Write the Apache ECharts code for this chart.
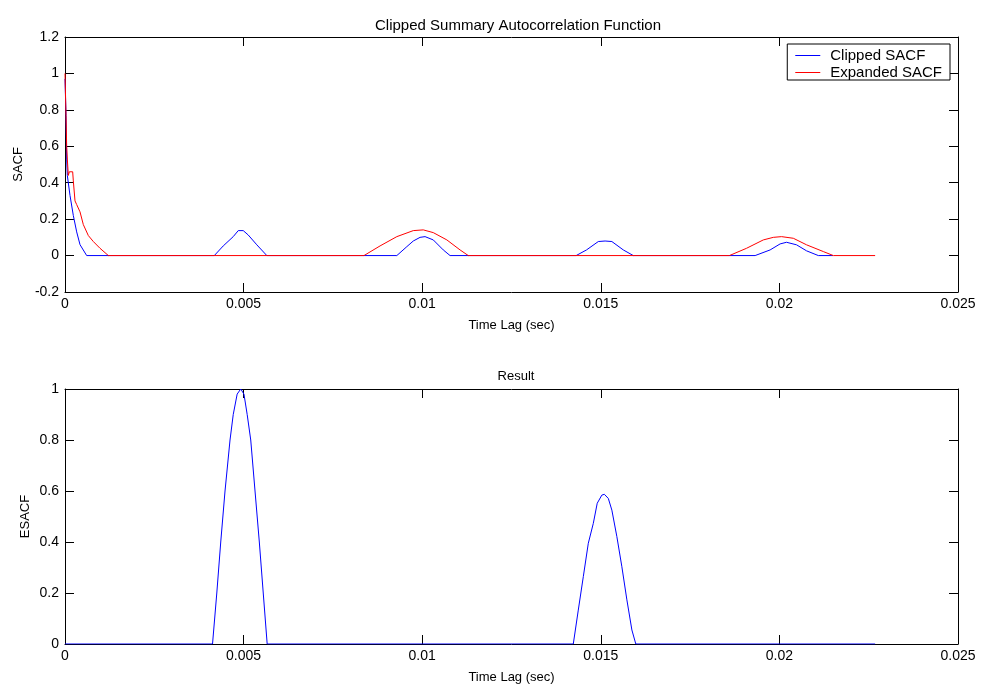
<!DOCTYPE html>
<html>
<head>
<meta charset="utf-8">
<title>Clipped Summary Autocorrelation Function</title>
<script src="https://cdn.jsdelivr.net/npm/echarts@6/dist/echarts.min.js"></script>
<style>
  html, body { margin: 0; padding: 0; background: #fff; }
  #chart { width: 981px; height: 698px; }
</style>
</head>
<body>
<div id="chart"></div>
<script>
// Time lag (sec) / value pairs for the summary autocorrelation traces
const clippedSACF = [
  [0, 0.97], [0.000028, 0.77], [0.000047, 0.53], [0.000065, 0.44],
  [0.00014, 0.33], [0.000233, 0.22], [0.000327, 0.13], [0.00042, 0.06],
  [0.000607, 0], [0.00418, 0],
  [0.00443, 0.053], [0.00471, 0.104], [0.00485, 0.137], [0.00499, 0.137],
  [0.00513, 0.113], [0.00537, 0.059], [0.00565, 0],
  [0.00929, 0], [0.00957, 0.049], [0.00975, 0.08], [0.00994, 0.1],
  [0.01008, 0.104], [0.01031, 0.086], [0.01059, 0.031], [0.01078, 0],
  [0.01431, 0], [0.0146, 0.031], [0.01493, 0.077], [0.01512, 0.08],
  [0.01531, 0.077], [0.01563, 0.031], [0.01591, 0],
  [0.01932, 0], [0.01974, 0.031], [0.02002, 0.064], [0.0202, 0.073],
  [0.02048, 0.059], [0.02076, 0.026], [0.02109, 0], [0.0215, 0]
];

const expandedSACF = [
  [0, 1.0], [0.000028, 0.77], [0.000047, 0.6], [0.000065, 0.53],
  [0.000093, 0.44], [0.000121, 0.46], [0.000168, 0.47], [0.000215, 0.46],
  [0.000233, 0.41], [0.00028, 0.3], [0.000327, 0.28], [0.00042, 0.24],
  [0.000513, 0.17], [0.000653, 0.11], [0.000793, 0.077], [0.00098, 0.04],
  [0.001213, 0], [0.00837, 0],
  [0.00882, 0.053], [0.00929, 0.104], [0.00975, 0.137], [0.01003, 0.141],
  [0.01031, 0.126], [0.01069, 0.086], [0.01106, 0.031], [0.01129, 0],
  [0.0186, 0], [0.01908, 0.04], [0.01955, 0.086], [0.01983, 0.1],
  [0.02006, 0.104], [0.02039, 0.095], [0.02076, 0.059], [0.02123, 0.022],
  [0.02151, 0], [0.02268, 0]
];

const resultESACF = [
  [0, 0], [0.00413, 0],
  [0.00425, 0.2], [0.00436, 0.4], [0.00448, 0.6], [0.00462, 0.8],
  [0.00471, 0.9], [0.00482, 0.98], [0.00492, 1.0], [0.00501, 0.98],
  [0.0051, 0.9], [0.0052, 0.8], [0.00532, 0.6], [0.00544, 0.4],
  [0.00555, 0.2], [0.00566, 0],
  [0.01423, 0], [0.01437, 0.133], [0.01451, 0.264], [0.01465, 0.395],
  [0.01479, 0.473], [0.0149, 0.552], [0.01503, 0.584], [0.0151, 0.587],
  [0.01521, 0.571], [0.01531, 0.525], [0.01545, 0.421], [0.01559, 0.303],
  [0.01573, 0.173], [0.01587, 0.055], [0.01598, 0], [0.02268, 0]
];

const seriesNames = ['Clipped SACF', 'Expanded SACF', 'ESACF'];
const seriesColors = ['#0000ff', '#ff0000', '#0000ff'];
const xRange = { min: 0, max: 0.025, interval: 0.005 };
const yRangeTop = { min: -0.2, max: 1.2, interval: 0.2 };
const yRangeBottom = { min: 0, max: 1, interval: 0.2 };

const FONT = '"Liberation Sans", Arial, sans-serif';
const BLACK = '#000';

const fmt = v => String(+(+v).toFixed(4));

function xAxisDef(gridIndex, position, withLabels, nameGap) {
  return {
    type: 'value', gridIndex, position,
    min: xRange.min, max: xRange.max, interval: xRange.interval,
    name: withLabels ? 'Time Lag (sec)' : '',
    nameLocation: 'middle', nameGap: nameGap || 30, nameMoveOverlap: false,
    nameTextStyle: { color: BLACK, fontFamily: FONT, fontSize: 13 },
    axisLine: { show: true, onZero: false, lineStyle: { color: BLACK, width: 1 } },
    axisTick: { show: true, inside: true, length: 9, lineStyle: { color: BLACK } },
    axisLabel: { show: withLabels, color: BLACK, fontFamily: FONT, fontSize: 14, margin: 5, formatter: fmt },
    splitLine: { show: false }
  };
}

function yAxisDef(gridIndex, position, range, name, withLabels, nameGap) {
  return {
    type: 'value', gridIndex, position,
    min: range.min, max: range.max, interval: range.interval,
    name: withLabels ? name : '',
    nameLocation: 'middle', nameGap: nameGap || 40, nameMoveOverlap: false,
    nameTextStyle: { color: BLACK, fontFamily: FONT, fontSize: 13 },
    axisLine: { show: true, onZero: false, lineStyle: { color: BLACK, width: 1 } },
    axisTick: { show: true, inside: true, length: 9, lineStyle: { color: BLACK } },
    axisLabel: { show: withLabels, color: BLACK, fontFamily: FONT, fontSize: 14, margin: 6, formatter: fmt },
    splitLine: { show: false }
  };
}

const chart = echarts.init(document.getElementById('chart'), null, { renderer: 'canvas' });

chart.setOption({
  animation: false,
  backgroundColor: '#fff',
  title: [
    {
      text: 'Clipped Summary Autocorrelation Function',
      left: 513, top: 13, textAlign: 'center',
      textStyle: { color: BLACK, fontFamily: FONT, fontSize: 15, fontWeight: 'normal' }
    },
    {
      text: 'Result',
      left: 511, top: 365, textAlign: 'center',
      textStyle: { color: BLACK, fontFamily: FONT, fontSize: 13, fontWeight: 'normal' }
    }
  ],
  legend: {
    data: [
      { name: seriesNames[0], icon: 'rect', itemStyle: { color: seriesColors[0] } },
      { name: seriesNames[1], icon: 'rect', itemStyle: { color: seriesColors[1] } }
    ],
    orient: 'vertical',
    right: 31, top: 44,
    padding: [4, 8, 0, 8],
    itemGap: 2,
    itemWidth: 25, itemHeight: 1,
    backgroundColor: '#fff',
    borderColor: BLACK, borderWidth: 1, borderRadius: 0,
    textStyle: { color: BLACK, fontFamily: FONT, fontSize: 15, padding: [0, 0, 0, 5] }
  },
  grid: [
    { left: 65, right: 23, top: 37, height: 255 },
    { left: 65, right: 23, top: 389, height: 255 }
  ],
  xAxis: [
    xAxisDef(0, 'bottom', true, 27),
    xAxisDef(0, 'top', false),
    xAxisDef(1, 'bottom', true, 27),
    xAxisDef(1, 'top', false)
  ],
  yAxis: [
    yAxisDef(0, 'left', yRangeTop, 'SACF', true, 40),
    yAxisDef(0, 'right', yRangeTop, '', false),
    yAxisDef(1, 'left', yRangeBottom, 'ESACF', true, 33),
    yAxisDef(1, 'right', yRangeBottom, '', false)
  ],
  series: [
    {
      name: seriesNames[0], type: 'line', xAxisIndex: 0, yAxisIndex: 0,
      data: clippedSACF, symbol: 'none', showSymbol: false,
      lineStyle: { color: seriesColors[0], width: 1 }, itemStyle: { color: seriesColors[0] }
    },
    {
      name: seriesNames[1], type: 'line', xAxisIndex: 0, yAxisIndex: 0,
      data: expandedSACF, symbol: 'none', showSymbol: false,
      lineStyle: { color: seriesColors[1], width: 1 }, itemStyle: { color: seriesColors[1] }
    },
    {
      name: seriesNames[2], type: 'line', xAxisIndex: 2, yAxisIndex: 2,
      data: resultESACF, symbol: 'none', showSymbol: false,
      lineStyle: { color: seriesColors[2], width: 1 }, itemStyle: { color: seriesColors[2] }
    }
  ]
});
</script>
</body>
</html>
